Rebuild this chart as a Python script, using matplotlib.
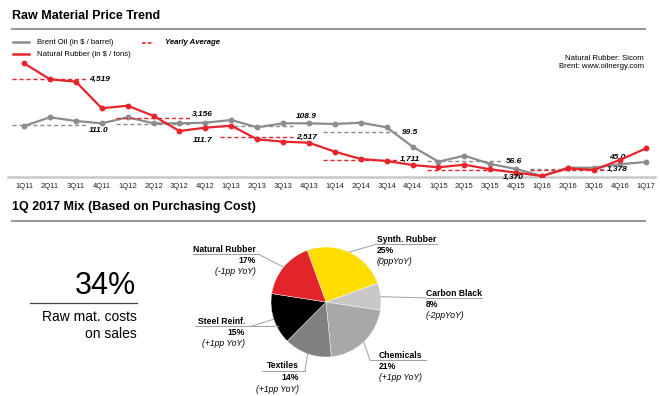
import matplotlib
matplotlib.use("Agg")
import matplotlib.pyplot as plt
import numpy as np

plt.rcParams['font.family'] = ['Liberation Sans', 'DejaVu Sans']

# data
quarters = ['1Q11', '2Q11', '3Q11', '4Q11', '1Q12', '2Q12', '3Q12', '4Q12',
            '1Q13', '2Q13', '3Q13', '4Q13', '1Q14', '2Q14', '3Q14', '4Q14',
            '1Q15', '2Q15', '3Q15', '4Q15', '1Q16', '2Q16', '3Q16', '4Q16', '1Q17']
brent = [109.0, 121.9, 116.4, 113.0, 121.9, 113.0, 113.0, 113.9,
         117.9, 107.1, 113.0, 113.0, 112.0, 113.9, 107.1, 78.5,
         56.3, 65.2, 52.9, 45.5, 35.2, 47.4, 47.4, 52.5, 55.9]
rubber = [5066, 4512, 4429, 3508, 3598, 3242, 2722, 2837,
          2906, 2435, 2352, 2317, 2006, 1753, 1684, 1545,
          1466, 1556, 1396, 1279, 1164, 1431, 1372, 1718, 2117]
brent_avg = [111.0, 111.7, 108.9, 99.5, 56.6, 45.0]
rubber_avg = [4519, 3156, 2517, 1711, 1370, 1378]

mix_labels = ['Synth. Rubber', 'Carbon Black', 'Chemicals', 'Textiles', 'Steel Reinf.', 'Natural Rubber']
mix_values = [25, 8, 21, 14, 15, 17]
mix_yoy = ['(0ppYoY)', '(-2ppYoY)', '(+1pp YoY)', '(+1pp YoY)', '(+1pp YoY)', '(-1pp YoY)']
mix_colors = ['#FFDD00', '#C8C8C8', '#A8A8A8', '#808080', '#000000', '#E3242B']

RED = '#E8242B'
GRAY = '#8C8C8C'
W, H = 660, 396

fig = plt.figure(figsize=(W / 100, H / 100), dpi=100)

# ---- line chart (two scales, brent behind rubber)
ax = fig.add_axes([8 / W, 1 - 177 / H, 647 / W, 122 / H])
ax.set_xlim(-0.62, 24.36)
ax.set_ylim(33.7, 213.9)
ax2 = ax.twinx()
ax2.set_ylim(1130, 5353)

x = np.arange(len(quarters))
ax.plot(x, brent, color=GRAY, lw=1.6, marker='o', ms=3.2, zorder=3)
ax2.plot(x, rubber, color=RED, lw=1.6, marker='o', ms=3.2, zorder=3)

# yearly averages: dashed segments + labels
brent_off = [-4.5, -12, 7, 0, 0, 8.5]
rubber_off = [0, 3, 0, 0.5, -5, 0]
for k in range(len(brent_avg)):
    x0, x1 = 4 * k - 0.45, 4 * k + 2.4
    ax.hlines(brent_avg[k], x0, x1, colors=GRAY, linestyles=(0, (3, 2)), lw=1, zorder=2)
    ax2.hlines(rubber_avg[k], x0, x1, colors=RED, linestyles=(0, (3, 2)), lw=1, zorder=2)
    ax.annotate('%.1f' % brent_avg[k], (4 * k + 2.9, brent_avg[k]), xytext=(0, brent_off[k]),
                textcoords='offset points', ha='center', va='center',
                fontsize=6, fontweight='bold', style='italic', zorder=5)
    ax2.annotate('{:,}'.format(rubber_avg[k]), (4 * k + 2.9, rubber_avg[k]), xytext=(0, rubber_off[k]),
                 textcoords='offset points', ha='center', va='center',
                 fontsize=6, fontweight='bold', style='italic', zorder=5)

ax.set_xticks(x)
ax.set_xticklabels(quarters, fontsize=5.5, color='#222222')
ax.tick_params(axis='x', length=0, pad=4)
ax.set_yticks([])
ax2.set_yticks([])
for a in (ax, ax2):
    for s in ['top', 'left', 'right', 'bottom']:
        a.spines[s].set_visible(False)
ax.spines['bottom'].set_visible(True)
ax.spines['bottom'].set_color('#C8C8C8')
ax.spines['bottom'].set_linewidth(1.8)
ax.patch.set_alpha(0)
ax2.patch.set_alpha(0)

# ---- pie
cx, cy, R = 326, 302, 55
pax = fig.add_axes([(cx - R) / W, 1 - (cy + R) / H, 2 * R / W, 2 * R / H])
wedges, _ = pax.pie(mix_values, colors=mix_colors, startangle=110, counterclock=False,
                    wedgeprops=dict(edgecolor='white', linewidth=0.3))
pax.set_xlim(-1, 1)
pax.set_ylim(-1, 1)
pax.set_aspect('equal')

# ---- overlay in pixel coordinates for text and rules
ov = fig.add_axes([0, 0, 1, 1])
ov.set_xlim(0, W)
ov.set_ylim(H, 0)
ov.axis('off')

ov.text(12, 16, 'Raw Material Price Trend', fontsize=9, fontweight='bold', va='center')
ov.plot([12, 645], [28.5, 28.5], color='#999999', lw=1.5)
ov.plot([13, 29], [42, 42], color=GRAY, lw=1.8)
ov.text(37, 42, 'Brent Oil (in $ / barrel)', fontsize=5.6, va='center')
ov.plot([13, 29], [54, 54], color=RED, lw=1.8)
ov.text(37, 54, 'Natural Rubber (in $ / tons)', fontsize=5.6, va='center')
ov.plot([142, 154], [43, 43], color=RED, lw=1.2, ls=(0, (2.2, 1.3)))
ov.text(165, 43, 'Yearly Average', fontsize=5.6, fontweight='bold', style='italic', va='center')
ov.text(644, 58, 'Natural Rubber: Sicom', fontsize=5.6, ha='right', va='center')
ov.text(644, 67, 'Brent: www.oilnergy.com', fontsize=5.6, ha='right', va='center')

ov.text(12, 207, '1Q 2017 Mix (Based on Purchasing Cost)', fontsize=9, fontweight='bold', va='center')
ov.plot([12, 645], [221, 221], color='#999999', lw=1.5)

ov.text(136, 286, '34%', fontsize=22, ha='right', va='center')
ov.plot([30, 137], [303, 303], color='#444444', lw=0.9)
ov.text(137, 317, 'Raw mat. costs', fontsize=10, ha='right', va='center')
ov.text(137, 334, 'on sales', fontsize=10, ha='right', va='center')

# label layout: text x, name y, alignment, underline x0, x1, joint x
lab_pos = [(377, 239, 'left', 377, 437, 377),
           (426, 293, 'left', 426, 482, 426),
           (379, 355, 'left', 370, 426, 370),
           (299, 366, 'right', 262, 305, 305),
           (245, 321, 'right', 195, 278, 252),
           (256, 249, 'right', 193, 258, 258)]
for w, name, v, yoy, (tx, ty, ha, u0, u1, j) in zip(wedges, mix_labels, mix_values, mix_yoy, lab_pos):
    mid = np.deg2rad((w.theta1 + w.theta2) / 2)
    ex, ey = cx + R * np.cos(mid), cy - R * np.sin(mid)
    uy = ty + 5
    ov.plot([u0, u1], [uy, uy], color='#A0A0A0', lw=0.7)
    ov.plot([ex, j], [ey, uy], color='#A0A0A0', lw=0.7)
    ov.text(tx, ty, name, fontsize=6.2, fontweight='bold', ha=ha, va='center')
    ov.text(tx, ty + 11.5, '%d%%' % v, fontsize=6.2, fontweight='bold', ha=ha, va='center')
    ov.text(tx, ty + 23, yoy, fontsize=6.2, style='italic', ha=ha, va='center')

fig.savefig('out.png', dpi=100, facecolor='white')
